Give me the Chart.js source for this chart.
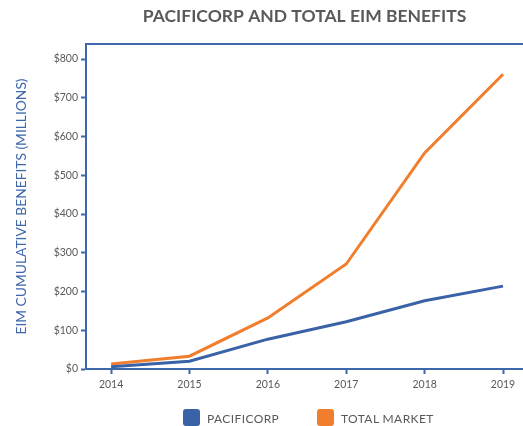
<!DOCTYPE html>
<html>
<head>
<meta charset="utf-8">
<script src="https://cdn.jsdelivr.net/npm/chart.js@4"></script>
<style>
  html, body { margin: 0; padding: 0; background: #ffffff; }
  #wrap { position: relative; width: 523px; height: 426px; }
  #leyenda { position: absolute; left: 0; top: 409px; width: 523px; height: 17px;
             font-family: Lato, "Open Sans", sans-serif; font-size: 12px; color: #58595b; }
  .item { position: absolute; top: 0; height: 17px; line-height: 17px; white-space: nowrap; }
  .caja { position: absolute; left: 0; top: 0; width: 17px; height: 17px; border-radius: 3px; }
  .texto { position: absolute; left: 24px; top: 1px; letter-spacing: 0.4px; }
</style>
</head>
<body>
<div id="wrap">
  <canvas id="graficoEIM" width="523" height="426"></canvas>
  <div id="leyenda"></div>
</div>
<script>
// Datos (millones de dólares, acumulados)
const anios = [2014, 2015, 2016, 2017, 2018, 2019];
const pacificorp = [6, 20, 77, 122, 176, 214];
const totalMercado = [13, 33, 132, 271, 558, 761];
const ticksY = [0, 100, 200, 300, 400, 500, 600, 700, 800];
const nombresSeries = ['PACIFICORP', 'TOTAL MARKET'];

const AZUL_EJE = '#3e67ac';
const AZUL = '#3a62a6';
const NARANJA = '#f07e2c';
const GRIS = '#58595b';
const FUENTE = 'Lato, "Open Sans", sans-serif';

// Línea superior del marco del área de trazado
const bordeSuperior = {
    id: 'bordeSuperior',
    afterDraw(chart) {
        const { ctx, chartArea } = chart;
        ctx.save();
        ctx.strokeStyle = AZUL_EJE;
        ctx.lineWidth = 2;
        ctx.beginPath();
        ctx.moveTo(chartArea.left - 1, chartArea.top);
        ctx.lineTo(chart.width, chartArea.top);
        ctx.stroke();
        ctx.restore();
    }
};

new Chart(document.getElementById('graficoEIM'), {
    type: 'line',
    data: {
        datasets: [
            {
                label: nombresSeries[0],
                data: anios.map((a, i) => ({ x: a, y: pacificorp[i] })),
                borderColor: AZUL,
                backgroundColor: AZUL,
                borderWidth: 3,
                pointRadius: 0,
                tension: 0
            },
            {
                label: nombresSeries[1],
                data: anios.map((a, i) => ({ x: a, y: totalMercado[i] })),
                borderColor: NARANJA,
                backgroundColor: NARANJA,
                borderWidth: 3,
                pointRadius: 0,
                tension: 0
            }
        ]
    },
    options: {
        responsive: false,
        animation: false,
        layout: { padding: { left: 0, right: 0, top: 0, bottom: 35 } },
        plugins: {
            legend: { display: false },
            tooltip: { enabled: false },
            title: {
                display: true,
                text: 'PACIFICORP AND TOTAL EIM BENEFITS',
                fullSize: false,
                color: GRIS,
                font: { family: FUENTE, size: 17.5, weight: '700' },
                padding: { top: 6, bottom: 17 }
            }
        },
        scales: {
            x: {
                type: 'linear',
                min: 2013.68,
                max: 2019.255,
                afterBuildTicks: (scale) => { scale.ticks = anios.map(v => ({ value: v })); },
                afterFit: (scale) => { scale.height = 22; },
                grid: { drawOnChartArea: false, drawTicks: true, tickLength: 5, tickColor: AZUL_EJE, tickWidth: 2 },
                border: { color: AZUL_EJE, width: 2 },
                ticks: {
                    color: GRIS,
                    padding: 4,
                    font: { family: FUENTE, size: 10.5 },
                    callback: (v) => String(v)
                }
            },
            y: {
                min: 0,
                max: 839,
                afterBuildTicks: (scale) => { scale.ticks = ticksY.map(v => ({ value: v })); },
                afterFit: (scale) => { scale.width = 86; },
                grid: { drawOnChartArea: false, drawTicks: true, tickLength: 5, tickColor: AZUL_EJE, tickWidth: 2 },
                border: { color: AZUL_EJE, width: 2 },
                ticks: {
                    color: GRIS,
                    padding: 3,
                    font: { family: FUENTE, size: 10.5 },
                    callback: (v) => '$' + v
                },
                title: {
                    display: true,
                    text: 'EIM CUMULATIVE BENEFITS (MILLIONS)',
                    color: AZUL_EJE,
                    font: { family: FUENTE, size: 13.8 },
                    padding: { top: 13, bottom: 0 }
                }
            }
        }
    },
    plugins: [bordeSuperior]
});

// Leyenda en HTML con cajas redondeadas
const leyenda = document.getElementById('leyenda');
const coloresLeyenda = [AZUL, NARANJA];
const posicionesLeyenda = [183, 317];
leyenda.innerHTML = nombresSeries.map((n, i) => `
    <div class="item" style="left:${posicionesLeyenda[i]}px;">
        <span class="caja" style="background:${coloresLeyenda[i]};"></span>
        <span class="texto">${n}</span>
    </div>`).join('');
</script>
</body>
</html>
